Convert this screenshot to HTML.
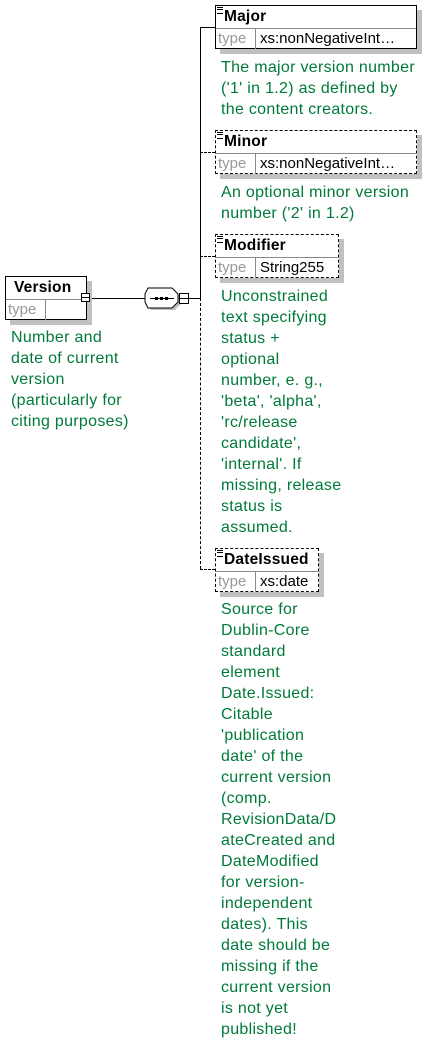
<!DOCTYPE html>
<html><head><style>
body{margin:0;width:436px;height:1044px;background:#fff;position:relative;overflow:hidden;font-family:"Liberation Sans",sans-serif}
.box{position:absolute;background:#fff;border:1px solid #000;box-shadow:5px 5px 0 #c0c0c0;box-sizing:border-box}
.box.d{border:1px dashed #000}
.nm{height:22px;line-height:22px;font-weight:bold;font-size:15.5px;padding-left:8px;border-bottom:1px solid #888;position:relative;letter-spacing:0.2px}
.ty{height:20px;line-height:19px;font-size:15px;display:flex}
.ty .a{color:#999;width:40px;padding-left:2px;border-right:1px solid #888;box-sizing:border-box}
.ty .b{padding-left:4px;white-space:nowrap;overflow:hidden}
.ic{position:absolute;left:1px;top:1px;width:6px;height:5px;border-top:1px solid #000;border-bottom:1px solid #000}
.ic:after{content:"";position:absolute;left:0;top:1px;width:6px;border-top:1px solid #000}
.t{position:absolute;color:#007a3a;font-size:16px;letter-spacing:0.3px;line-height:21px;white-space:nowrap}
.l{position:absolute;background:#000}
</style></head><body>
<div class="l" style="left:200px;top:27px;width:1px;height:271px"></div>
<div style="position:absolute;left:200px;top:298px;height:271px;border-left:1px dashed #000"></div>
<div class="l" style="left:200px;top:27px;width:15px;height:1px"></div>
<div style="position:absolute;left:200px;top:152px;width:15px;border-top:1px dashed #000"></div>
<div style="position:absolute;left:200px;top:256px;width:15px;border-top:1px dashed #000"></div>
<div style="position:absolute;left:200px;top:569px;width:15px;border-top:1px dashed #000"></div>
<div class="l" style="left:86px;top:298px;width:60px;height:1px"></div>
<div class="l" style="left:188px;top:298px;width:12px;height:1px"></div>

<div class="box" style="left:5px;top:276px;width:82px;height:44px">
<div class="nm">Version</div>
<div class="ty"><span class="a">type</span></div>
</div>
<div style="position:absolute;left:81px;top:293px;width:9px;height:9px;border:1px solid #000;background:#fff;box-sizing:border-box"><div style="position:absolute;left:0;top:3px;width:7px;height:1px;background:#000"></div></div>

<svg style="position:absolute;left:140px;top:284px" width="60" height="30">
<polygon points="11,7 35,7 41,13 41,20 35,26 11,26 5,20 5,13" fill="#c0c0c0"/>
<polygon points="8,4 32,4 38,10 38,18 32,24 8,24 5,18 5,10" fill="#fff" stroke="#000"/>
<line x1="10" y1="14.5" x2="34" y2="14.5" stroke="#000"/>
<rect x="15" y="13" width="3" height="3" fill="#000"/><rect x="20" y="13" width="3" height="3" fill="#000"/><rect x="25" y="13" width="3" height="3" fill="#000"/>
<rect x="39.5" y="9.5" width="9" height="10" fill="#fff" stroke="#000"/>
<line x1="40" y1="14.5" x2="48" y2="14.5" stroke="#000"/>
</svg>

<div class="t" style="left:11px;top:327px">Number and<br>date of current<br>version<br>(particularly for<br>citing purposes)</div>

<div class="box" style="left:215px;top:5px;width:202px;height:44px">
<div class="ic"></div><div class="nm">Major</div>
<div class="ty"><span class="a">type</span><span class="b">xs:nonNegativeInt…</span></div>
</div>
<div class="t" style="left:221px;top:57px">The major version number<br>('1' in 1.2) as defined by<br>the content creators.</div>

<div class="box d" style="left:215px;top:130px;width:202px;height:44px">
<div class="ic"></div><div class="nm">Minor</div>
<div class="ty"><span class="a">type</span><span class="b">xs:nonNegativeInt…</span></div>
</div>
<div class="t" style="left:221px;top:182px">An optional minor version<br>number ('2' in 1.2)</div>

<div class="box d" style="left:215px;top:234px;width:124px;height:44px">
<div class="ic"></div><div class="nm">Modifier</div>
<div class="ty"><span class="a">type</span><span class="b">String255</span></div>
</div>
<div class="t" style="left:221px;top:286px">Unconstrained<br>text specifying<br>status +<br>optional<br>number, e. g.,<br>'beta', 'alpha',<br>'rc/release<br>candidate',<br>'internal'. If<br>missing, release<br>status is<br>assumed.</div>

<div class="box d" style="left:215px;top:548px;width:104px;height:44px">
<div class="ic"></div><div class="nm">DateIssued</div>
<div class="ty"><span class="a">type</span><span class="b">xs:date</span></div>
</div>
<div class="t" style="left:221px;top:599px">Source for<br>Dublin-Core<br>standard<br>element<br>Date.Issued:<br>Citable<br>'publication<br>date' of the<br>current version<br>(comp.<br>RevisionData/D<br>ateCreated and<br>DateModified<br>for version-<br>independent<br>dates). This<br>date should be<br>missing if the<br>current version<br>is not yet<br>published!</div>
</body></html>
